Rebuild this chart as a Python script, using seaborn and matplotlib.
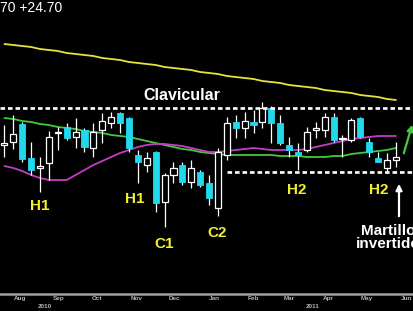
import numpy as np
import pandas as pd
import matplotlib
matplotlib.use("Agg")
import matplotlib.pyplot as plt
import matplotlib.dates as mdates
import seaborn as sns

# ---------------- data (weekly candles) ----------------
weeks = pd.date_range("2010-08-04", periods=45, freq="7D")

opens = [166, 169, 187, 153, 143, 148, 178, 184, 174, 181, 163, 181, 188, 198, 193,
         156, 146, 159, 109, 136, 146, 129, 139, 128, 103, 156, 189, 183, 189, 189,
         203, 188, 166, 159, 161, 181, 181, 194, 172, 171, 193, 169, 153, 143, 151]
highs = [186, 196, 189, 169, 154, 180, 184, 188, 193, 183, 188, 198, 199, 199, 194,
         161, 159, 160, 138, 149, 149, 151, 141, 136, 163, 194, 196, 199, 201, 209,
         205, 196, 174, 168, 184, 189, 198, 198, 176, 193, 194, 173, 159, 158, 169]
lows = [154, 162, 149, 136, 119, 131, 161, 171, 163, 159, 154, 168, 183, 178, 159,
        128, 139, 99, 84, 128, 126, 123, 124, 106, 95, 151, 173, 173, 178, 183,
        168, 166, 154, 141, 159, 173, 174, 169, 154, 169, 173, 154, 149, 138, 144]
closes = [168, 177, 152, 141, 145, 174, 179, 173, 179, 164, 179, 190, 194, 188, 163,
          149, 153, 108, 136, 143, 129, 143, 126, 113, 159, 188, 183, 190, 186, 203,
          188, 168, 161, 156, 179, 183, 194, 171, 173, 191, 174, 159, 149, 151, 154]

ma_long = [267, 266, 265, 264, 262, 261, 260, 258, 257, 256, 255, 253, 252, 251, 249,
           248, 247, 246, 244, 243, 242, 241, 239, 238, 237, 235, 234, 233, 232, 230,
           229, 228, 226, 225, 224, 223, 221, 220, 219, 218, 216, 215, 214, 212, 211]
ma_mid = [193, 192, 190, 189, 187, 186, 184, 183, 182, 180, 179, 178, 176, 175, 174,
          172, 170, 168, 166, 164, 162, 161, 159, 158, 157, 156, 156, 156, 156, 156,
          156, 155, 155, 155, 154, 154, 154, 155, 155, 157, 158, 159, 160, 161, 163]
ma_short = [145, 143, 140, 136, 133, 131, 131, 131, 136, 141, 146, 150, 154, 158, 161,
            164, 166, 167, 167, 166, 165, 163, 161, 159, 159, 160, 161, 162, 163, 162,
            161, 161, 161, 161, 162, 164, 166, 168, 170, 172, 173, 174, 175, 175, 175]

neck_level = 203
support_level = 139
support_start = pd.Timestamp("2011-01-26")

month_mid = ["2010-08-16", "2010-09-16", "2010-10-16", "2010-11-16", "2010-12-16",
             "2011-01-16", "2011-02-16", "2011-03-16", "2011-04-16", "2011-05-16",
             "2011-06-16"]
month_labels = ["Aug", "Sep", "Oct", "Nov", "Dec", "Jan", "Feb", "Mar", "Apr", "May", "Jun"]
year_labels = ["2010", "2011"]
header_text = "70 +24.70"
neck_label = "Clavicular"
pattern_labels = ["H1", "H1", "C1", "C2", "H2", "H2"]
hammer_label = "Martillo\ninvertido"

# ---------------- styling ----------------
sns.set_theme(style="dark", rc={"axes.facecolor": "black", "figure.facecolor": "black",
                                "savefig.facecolor": "black"})
plt.rcParams["font.family"] = ["Liberation Sans", "DejaVu Sans"]
plt.rcParams["lines.scale_dashes"] = False

W, H = 414, 311
fig = plt.figure(figsize=(W / 100, H / 100), dpi=100)
ax = fig.add_axes([0, 17 / H, 1, 294 / H])
ax.set_facecolor("black")

def fpx(x, y):
    return x / W, 1 - y / H

# moving averages
df = pd.DataFrame({"date": weeks, "ma_long": ma_long, "ma_mid": ma_mid, "ma_short": ma_short})
long_df = df.melt("date", var_name="ma", value_name="value")
sns.lineplot(data=long_df, x="date", y="value", hue="ma",
             palette={"ma_long": "#e4e43c", "ma_mid": "#3fcc3a", "ma_short": "#c43cc8"},
             linewidth=1.3, legend=False, ax=ax, zorder=2)

# candles
o = np.array(opens, float)
c = np.array(closes, float)
up = c >= o
lo = np.minimum(o, c)
hgt = np.maximum(np.abs(c - o), 0.9)
ax.vlines(weeks, lows, highs, color="white", linewidth=0.9, zorder=3)
ax.bar(weeks[up], hgt[up], bottom=lo[up], width=4.8, color="black",
       edgecolor="white", linewidth=0.9, zorder=4)
ax.bar(weeks[~up], hgt[~up], bottom=lo[~up], width=4.8, color="#22d8ec",
       edgecolor="#22d8ec", linewidth=0.6, zorder=4)

# x range
sep1 = pd.Timestamp("2010-09-01")
left = sep1 - pd.Timedelta(days=40 / 1.271)
right = sep1 + pd.Timedelta(days=374 / 1.271)

# neckline and support
ax.hlines(neck_level, left, right, colors="white", linewidth=1.9,
          linestyles=(0, (3.3, 2.1)), zorder=5)
ax.hlines(support_level, support_start, right, colors="white", linewidth=1.9,
          linestyles=(0, (3.3, 2.1)), zorder=5)

ax.set_xlim(left, right)
ax.set_ylim(17, 311)

# axes styling
for s in ["top", "left", "right"]:
    ax.spines[s].set_visible(False)
ax.spines["bottom"].set_color("#a0a0a0")
ax.spines["bottom"].set_linewidth(1.8)
ax.set_yticks([])
ax.set_xlabel("")
ax.set_ylabel("")
ax.xaxis.set_major_locator(mdates.MonthLocator())
ax.xaxis.set_major_formatter(matplotlib.ticker.NullFormatter())
ax.set_xticks(mdates.date2num(pd.to_datetime(month_mid)), minor=True)
ax.set_xticklabels(month_labels, minor=True)
ax.tick_params(axis="x", which="major", length=2, width=0.7, color="#a0a0a0", direction="out")
ax.tick_params(axis="x", which="minor", length=0, pad=1.2, labelsize=4.6,
               labelcolor="#b4b4b4")
for t in ax.get_xticklabels(minor=True):
    t.set_fontweight("bold")
ax.grid(False)

# years
for lab, xp in zip(year_labels, [45, 313]):
    fig.text(*fpx(xp, 306), lab, color="#b4b4b4", fontsize=4.6, fontweight="bold",
             ha="center", va="center")

# header
fig.text(*fpx(0.5, 8), header_text, color="white", fontsize=10, ha="left", va="center")

# labels
fig.text(*fpx(181.5, 95), neck_label, color="white", fontsize=11.5, fontweight="bold",
         ha="center", va="center")
label_pos = [(40, 206), (135, 199), (164, 244), (217, 233), (297, 190), (379, 190)]
for lab, (xp, yp) in zip(pattern_labels, label_pos):
    fig.text(*fpx(xp, yp), lab, color="#f2ee30", fontsize=11, fontweight="bold",
             ha="center", va="center")
fig.text(*fpx(388, 237.5), hammer_label, color="white", fontsize=11, fontweight="bold",
         ha="center", va="center", linespacing=0.95)

# arrows
ax.annotate("", xy=(399, H - 181), xytext=(399, H - 219), xycoords="figure pixels",
            textcoords="figure pixels",
            arrowprops=dict(arrowstyle="-|>", color="white", lw=1.6, mutation_scale=9))
ax.annotate("", xy=(413, H - 122), xytext=(403, H - 156), xycoords="figure pixels",
            textcoords="figure pixels",
            arrowprops=dict(arrowstyle="-|>", color="#3fcc3a", lw=1.6, mutation_scale=9))

fig.savefig("out.png", dpi=100)
